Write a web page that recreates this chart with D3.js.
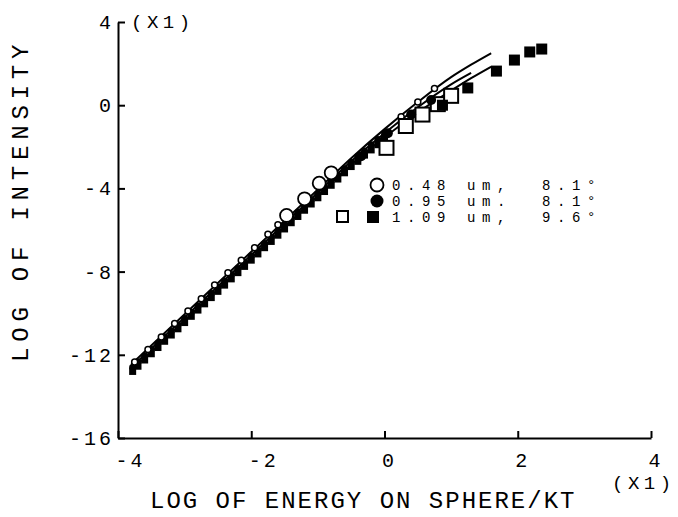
<!DOCTYPE html>
<html>
<head>
<meta charset="utf-8">
<script src="https://cdn.jsdelivr.net/npm/d3@7"></script>
<style>
  body { margin: 0; background: #fff; }
  svg text { font-family: "Liberation Mono", "DejaVu Sans Mono", monospace; fill: #000; }
</style>
</head>
<body>
<svg id="chart" width="678" height="517"></svg>
<script>
/* Data (log intensity vs log energy) */
var xTicks = [-4, -2, 0, 2, 4];
var yTicks = [-16, -12, -8, -4, 0, 4];

/* theory curves */
var lineX = [-3.8, -3.0, -2.0, -1.0, -0.5, 0.0, 0.5, 1.0, 1.3, 1.6];
var upperY = [-12.45, -10.05, -7.05, -4.05, -2.55, -1.15, 0.15, 1.35, 1.95, 2.5];
var lowerY = [-12.75, -10.35, -7.35, -4.35, -2.85, -1.55, -0.35, 0.7, 1.3, 1.85];
var midX = [-3.8, -3.0, -2.0, -1.0, -0.5, 0.0, 0.5, 1.0, 1.3];
var midY = [-12.6, -10.2, -7.2, -4.2, -2.7, -1.35, -0.1, 1.0, 1.55];

/* dense data along the band */
var bandX = [-3.78, -3.7, -3.6, -3.5, -3.4, -3.3, -3.2, -3.1, -3.0, -2.9, -2.8, -2.7, -2.6, -2.5, -2.4, -2.3, -2.2, -2.1, -2.0, -1.9,
             -1.8, -1.7, -1.6, -1.5, -1.4, -1.3, -1.2, -1.1, -1.0, -0.9, -0.8, -0.7, -0.6, -0.5, -0.4, -0.3, -0.2, -0.1, 0.0];
var bandCircleY = [-12.6, -12.35, -12.05, -11.75, -11.45, -11.15, -10.85, -10.55, -10.25, -9.95, -9.65, -9.35, -9.05, -8.75, -8.45, -8.15, -7.85, -7.55, -7.25, -6.95,
                   -6.65, -6.35, -6.05, -5.75, -5.45, -5.15, -4.85, -4.55, -4.25, -3.95, -3.65, -3.35, -3.05, -2.75, -2.45, -2.2, -1.9, -1.65, -1.4];
var bandSquareY = [-12.8, -12.55, -12.25, -11.95, -11.65, -11.35, -11.05, -10.75, -10.45, -10.15, -9.85, -9.55, -9.25, -8.95, -8.65, -8.35, -8.05, -7.75, -7.45, -7.15,
                   -6.85, -6.55, -6.25, -5.95, -5.65, -5.35, -5.05, -4.75, -4.45, -4.15, -3.85, -3.55, -3.25, -2.95, -2.7, -2.4, -2.15, -1.9, -1.65];
var smallOpenX = [-3.75, -3.55, -3.35, -3.15, -2.95, -2.75, -2.55, -2.35, -2.15, -1.95, -1.75, -1.6, 0.25, 0.5, 0.75];
var smallOpenY = [-12.35, -11.75, -11.15, -10.5, -9.9, -9.3, -8.65, -8.05, -7.45, -6.85, -6.2, -5.75, -0.55, 0.15, 0.8];

/* 0.48 um */
var openCircleX = [-1.47, -1.2, -0.98, -0.8];
var openCircleY = [-5.3, -4.5, -3.75, -3.25];
/* 0.95 um */
var filledCircleX = [-0.35, 0.05, 0.4, 0.7];
var filledCircleY = [-2.45, -1.35, -0.45, 0.25];
/* 1.09 um */
var openSquareX = [0.03, 0.32, 0.57, 0.8, 1.0];
var openSquareY = [-2.05, -1.0, -0.45, 0.05, 0.45];
var filledSquareX = [0.87, 1.25, 1.68, 1.95, 2.18, 2.36];
var filledSquareY = [0.0, 0.83, 1.64, 2.17, 2.56, 2.7];

/* legend */
var legendSizes = ["0.48", "0.95", "1.09"];
var legendSep = [",", ".", ","];
var legendAngles = ["8.1", "8.1", "9.6"];

var svg = d3.select("#chart");

var x = d3.scaleLinear().domain([-4, 4]).range([118, 651]);
var y = d3.scaleLinear().domain([-16, 4]).range([438, 22]);

function pairs(xs, ys) {
  return xs.map(function (v, i) { return [v, ys[i]]; });
}

/* Axes */
var yAxis = d3.axisLeft(y).tickValues(yTicks).tickSize(-7).tickSizeOuter(0).tickPadding(4)
  .tickFormat(function (d) { return String(d); });
var xAxis = d3.axisBottom(x).tickValues(xTicks).tickSize(-7).tickSizeOuter(0).tickPadding(15)
  .tickFormat(function (d) { return String(d); });

var gy = svg.append("g").attr("transform", "translate(118,0)").call(yAxis);
var gx = svg.append("g").attr("transform", "translate(0,438)").call(xAxis);

[gx, gy].forEach(function (g) {
  g.select(".domain").attr("stroke", "#000").attr("stroke-width", 2);
  g.selectAll(".tick line").attr("stroke", "#000").attr("stroke-width", 2);
  g.selectAll(".tick text").attr("font-family", null).attr("font-size", 20)
    .style("letter-spacing", "3px").attr("fill", "#000");
});
gx.selectAll(".tick text").attr("text-anchor", "start").attr("dx", -3);

/* multipliers */
svg.append("text").attr("x", 131).attr("y", 28).attr("font-size", 19)
  .style("letter-spacing", "4.5px").text("(X1)");
svg.append("text").attr("x", 612).attr("y", 489).attr("font-size", 19)
  .style("letter-spacing", "4.5px").text("(X1)");

/* axis titles */
svg.append("text").attr("x", 150).attr("y", 508).attr("font-size", 24)
  .style("letter-spacing", "2px").text("LOG OF ENERGY ON SPHERE/KT");
svg.append("text").attr("transform", "translate(28,362) rotate(-90)").attr("font-size", 24)
  .style("letter-spacing", "5.8px").text("LOG OF INTENSITY");

/* curves */
var line = d3.line()
  .x(function (d) { return x(d[0]); })
  .y(function (d) { return y(d[1]); })
  .curve(d3.curveMonotoneX);

[pairs(lineX, upperY), pairs(midX, midY), pairs(lineX, lowerY)].forEach(function (c) {
  svg.append("path").datum(c).attr("d", line)
    .attr("fill", "none").attr("stroke", "#000").attr("stroke-width", 2);
});

/* band markers */
svg.append("g").selectAll("rect").data(pairs(bandX, bandSquareY)).enter().append("rect")
  .attr("x", function (d) { return x(d[0]) - 3.5; })
  .attr("y", function (d) { return y(d[1]) - 3.5; })
  .attr("width", 7).attr("height", 7).attr("fill", "#000");

svg.append("g").selectAll("circle").data(pairs(bandX, bandCircleY)).enter().append("circle")
  .attr("cx", function (d) { return x(d[0]); })
  .attr("cy", function (d) { return y(d[1]); })
  .attr("r", 3.5).attr("fill", "#000");

svg.append("g").selectAll("circle").data(pairs(smallOpenX, smallOpenY)).enter().append("circle")
  .attr("cx", function (d) { return x(d[0]); })
  .attr("cy", function (d) { return y(d[1]); })
  .attr("r", 3).attr("fill", "#fff").attr("stroke", "#000").attr("stroke-width", 1.5);

/* larger markers */
svg.append("g").selectAll("rect").data(pairs(openSquareX, openSquareY)).enter().append("rect")
  .attr("x", function (d) { return x(d[0]) - 7; })
  .attr("y", function (d) { return y(d[1]) - 7; })
  .attr("width", 14).attr("height", 14)
  .attr("fill", "#fff").attr("stroke", "#000").attr("stroke-width", 2);

svg.append("g").selectAll("circle").data(pairs(openCircleX, openCircleY)).enter().append("circle")
  .attr("cx", function (d) { return x(d[0]); })
  .attr("cy", function (d) { return y(d[1]); })
  .attr("r", 6.5).attr("fill", "#fff").attr("stroke", "#000").attr("stroke-width", 1.8);

svg.append("g").selectAll("circle").data(pairs(filledCircleX, filledCircleY)).enter().append("circle")
  .attr("cx", function (d) { return x(d[0]); })
  .attr("cy", function (d) { return y(d[1]); })
  .attr("r", 5).attr("fill", "#000");

svg.append("g").selectAll("rect").data(pairs(filledSquareX, filledSquareY)).enter().append("rect")
  .attr("x", function (d) { return x(d[0]) - 5.5; })
  .attr("y", function (d) { return y(d[1]) - 5.5; })
  .attr("width", 11).attr("height", 11).attr("fill", "#000");

/* legend */
var legend = svg.append("g");
var rowY = [190, 206, 222];
legend.append("circle").attr("cx", 377).attr("cy", rowY[0] - 5).attr("r", 6.5)
  .attr("fill", "#fff").attr("stroke", "#000").attr("stroke-width", 1.8);
legend.append("circle").attr("cx", 377).attr("cy", rowY[1] - 5).attr("r", 6.5).attr("fill", "#000");
legend.append("rect").attr("x", 337).attr("y", rowY[2] - 11).attr("width", 11).attr("height", 11)
  .attr("fill", "#fff").attr("stroke", "#000").attr("stroke-width", 2);
legend.append("rect").attr("x", 367).attr("y", rowY[2] - 11).attr("width", 12).attr("height", 12)
  .attr("fill", "#000");

legendSizes.forEach(function (s, i) {
  legend.append("text").attr("x", 392).attr("y", rowY[i]).attr("font-size", 14)
    .style("letter-spacing", "6.6px").style("white-space", "pre")
    .text(s + " um" + legendSep[i] + "  " + legendAngles[i] + "\u00b0");
});
</script>
</body>
</html>
